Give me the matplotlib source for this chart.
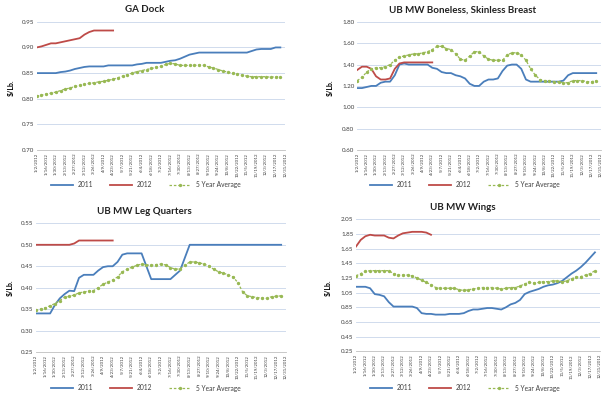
import numpy as np
import matplotlib
matplotlib.use("Agg")
import matplotlib.pyplot as plt

plt.rcParams["font.family"] = ["Lato", "DejaVu Sans"]

# week labels shown on the x axis (every second week)
date_labels = ["1/2/2012", "1/16/2012", "1/30/2012", "2/13/2012", "2/27/2012",
               "3/12/2012", "3/26/2012", "4/9/2012", "4/23/2012", "5/7/2012",
               "5/21/2012", "6/4/2012", "6/18/2012", "7/2/2012", "7/16/2012",
               "7/30/2012", "8/13/2012", "8/27/2012", "9/10/2012", "9/24/2012",
               "10/8/2012", "10/22/2012", "11/5/2012", "11/19/2012", "12/3/2012",
               "12/17/2012", "12/31/2012"]

# GA Dock
ga_2011 = [0.850, 0.850, 0.850, 0.850, 0.850, 0.852, 0.853, 0.855, 0.858, 0.860,
           0.862, 0.863, 0.863, 0.863, 0.863, 0.865, 0.865, 0.865, 0.865, 0.865,
           0.865, 0.867, 0.868, 0.870, 0.870, 0.870, 0.870, 0.872, 0.874, 0.875,
           0.878, 0.882, 0.886, 0.888, 0.890, 0.890, 0.890, 0.890, 0.890, 0.890,
           0.890, 0.890, 0.890, 0.890, 0.890, 0.893, 0.896, 0.897, 0.897, 0.897,
           0.900, 0.900]
ga_2012 = [0.900, 0.902, 0.905, 0.908, 0.908, 0.910, 0.912, 0.914, 0.916, 0.918,
           0.925, 0.930, 0.933, 0.933, 0.933, 0.933, 0.933]
ga_5yr = [0.805, 0.807, 0.809, 0.811, 0.813, 0.816, 0.819, 0.821, 0.824, 0.826,
          0.828, 0.830, 0.831, 0.833, 0.834, 0.836, 0.838, 0.841, 0.844, 0.847,
          0.850, 0.853, 0.855, 0.857, 0.859, 0.861, 0.863, 0.867, 0.869, 0.868,
          0.865, 0.865, 0.865, 0.865, 0.866, 0.865, 0.862, 0.860, 0.857, 0.854,
          0.852, 0.850, 0.848, 0.846, 0.844, 0.843, 0.843, 0.843, 0.843, 0.842,
          0.843, 0.843]

# UB MW Boneless, Skinless Breast
bsb_2011 = [1.18, 1.18, 1.19, 1.20, 1.20, 1.23, 1.24, 1.24, 1.30, 1.40,
            1.41, 1.40, 1.40, 1.40, 1.40, 1.40, 1.37, 1.36, 1.33, 1.32,
            1.32, 1.30, 1.29, 1.27, 1.22, 1.20, 1.20, 1.24, 1.26, 1.26,
            1.27, 1.34, 1.39, 1.40, 1.40, 1.36, 1.26, 1.24, 1.24, 1.24,
            1.24, 1.24, 1.24, 1.24, 1.25, 1.30, 1.32, 1.32, 1.32, 1.32,
            1.32, 1.32]
bsb_2012 = [1.35, 1.38, 1.38, 1.36, 1.29, 1.26, 1.26, 1.27, 1.36, 1.41,
            1.42, 1.42, 1.42, 1.42, 1.42, 1.42, 1.42]
bsb_5yr = [1.25, 1.28, 1.33, 1.36, 1.37, 1.37, 1.38, 1.40, 1.44, 1.47,
           1.48, 1.49, 1.50, 1.50, 1.51, 1.52, 1.54, 1.57, 1.57, 1.55,
           1.54, 1.50, 1.45, 1.44, 1.48, 1.52, 1.52, 1.48, 1.45, 1.44,
           1.44, 1.44, 1.49, 1.51, 1.51, 1.49, 1.44, 1.36, 1.30, 1.26,
           1.25, 1.25, 1.24, 1.24, 1.23, 1.23, 1.25, 1.25, 1.25, 1.24,
           1.24, 1.25]

# UB MW Leg Quarters
lq_2011 = [0.340, 0.340, 0.340, 0.340, 0.360, 0.375, 0.385, 0.393, 0.392, 0.423,
           0.430, 0.430, 0.430, 0.440, 0.448, 0.450, 0.450, 0.460, 0.477, 0.480,
           0.480, 0.480, 0.480, 0.450, 0.420, 0.420, 0.420, 0.420, 0.420, 0.430,
           0.440, 0.470, 0.500, 0.500, 0.500, 0.500, 0.500, 0.500, 0.500, 0.500,
           0.500, 0.500, 0.500, 0.500, 0.500, 0.500, 0.500, 0.500, 0.500, 0.500,
           0.500, 0.500]
lq_2012 = [0.500, 0.500, 0.500, 0.500, 0.500, 0.500, 0.500, 0.500, 0.503, 0.510,
           0.510, 0.510, 0.510, 0.510, 0.510, 0.510, 0.510]
lq_5yr = [0.347, 0.350, 0.353, 0.358, 0.363, 0.370, 0.378, 0.380, 0.383, 0.388,
          0.390, 0.392, 0.393, 0.400, 0.408, 0.413, 0.418, 0.425, 0.437, 0.443,
          0.448, 0.452, 0.455, 0.453, 0.452, 0.454, 0.455, 0.453, 0.447, 0.443,
          0.444, 0.452, 0.460, 0.460, 0.458, 0.455, 0.450, 0.443, 0.437, 0.434,
          0.430, 0.425, 0.412, 0.390, 0.381, 0.379, 0.377, 0.376, 0.375, 0.379,
          0.380, 0.381]

# UB MW Wings
w_2011 = [1.13, 1.13, 1.13, 1.11, 1.03, 1.02, 1.00, 0.92, 0.86, 0.86,
          0.86, 0.86, 0.86, 0.84, 0.77, 0.76, 0.76, 0.75, 0.75, 0.75,
          0.76, 0.76, 0.76, 0.77, 0.80, 0.82, 0.82, 0.83, 0.84, 0.84,
          0.83, 0.82, 0.85, 0.89, 0.91, 0.95, 1.03, 1.06, 1.08, 1.10,
          1.13, 1.15, 1.16, 1.18, 1.21, 1.26, 1.31, 1.35, 1.40, 1.46,
          1.53, 1.60]
w_2012 = [1.68, 1.77, 1.82, 1.84, 1.83, 1.83, 1.83, 1.80, 1.79, 1.83,
          1.86, 1.87, 1.88, 1.88, 1.88, 1.87, 1.84]
w_5yr = [1.28, 1.31, 1.34, 1.35, 1.35, 1.35, 1.35, 1.35, 1.31, 1.29,
         1.29, 1.29, 1.28, 1.25, 1.22, 1.19, 1.16, 1.12, 1.11, 1.11,
         1.11, 1.11, 1.09, 1.08, 1.09, 1.10, 1.11, 1.12, 1.12, 1.12,
         1.11, 1.10, 1.11, 1.12, 1.12, 1.14, 1.17, 1.19, 1.18, 1.19,
         1.20, 1.20, 1.21, 1.21, 1.20, 1.21, 1.24, 1.26, 1.27, 1.29,
         1.31, 1.35]

c2011 = "#4A7EBB"
c2012 = "#BE4B48"
c5yr = "#98B954"
grid_c = "#C9D6EA"

fig = plt.figure(figsize=(6.06, 3.96), dpi=100)

def panel(rect, title, title_xy, ylab_xy, leg_xy, s11, s12, s5, yticks, fmt):
    ax = fig.add_axes(rect)
    ax.plot(np.arange(len(s11)), s11, color=c2011, lw=1.3, label="2011")
    ax.plot(np.arange(len(s12)), s12, color=c2012, lw=1.3, label="2012")
    ax.plot(np.arange(len(s5)), s5, color=c5yr, lw=0.9, ls=(0, (2, 1.5)),
            marker="o", ms=1.4, mec=c5yr, label="5 Year Average")
    ax.set_xlim(0, 52)
    ax.set_ylim(yticks[0], yticks[-1])
    ax.set_yticks(yticks)
    ax.set_yticklabels([fmt % v for v in yticks], fontsize=4.5, color="#404040")
    ax.set_xticks(np.arange(0, 53, 2))
    ax.set_xticklabels(date_labels, rotation=90, fontsize=3.2, color="#404040")
    ax.tick_params(length=0, pad=2)
    ax.grid(axis="y", color=grid_c, lw=0.6)
    ax.set_axisbelow(True)
    for s in ["top", "right", "left"]:
        ax.spines[s].set_visible(False)
    ax.spines["bottom"].set_color("#BFBFBF")
    ax.spines["bottom"].set_linewidth(0.6)
    fig.text(title_xy[0] / 606, 1 - title_xy[1] / 396, title, ha="center",
             va="center", fontsize=7, fontweight="bold", color="#222222")
    fig.text(ylab_xy[0] / 606, 1 - ylab_xy[1] / 396, "$/Lb.", rotation=90,
             ha="center", va="center", fontsize=5, fontweight="bold")
    fig.legend(*ax.get_legend_handles_labels(), loc="center", ncol=3,
               bbox_to_anchor=(leg_xy[0] / 606, 1 - leg_xy[1] / 396),
               frameon=False, fontsize=4.8, handlelength=3.2, columnspacing=2.5,
               labelcolor="#404040")
    return ax

panel([0.0605, 0.621, 0.410, 0.324], "GA Dock", (145, 10), (11, 88), (146, 185),
      ga_2011, ga_2012, ga_5yr, [0.70, 0.75, 0.80, 0.85, 0.90, 0.95], "%.2f")
panel([0.5896, 0.621, 0.402, 0.324], "UB MW Boneless, Skinless Breast",
      (463, 10), (330, 88), (465, 185),
      bsb_2011, bsb_2012, bsb_5yr, [0.60, 0.80, 1.00, 1.20, 1.40, 1.60, 1.80], "%.2f")
panel([0.0589, 0.111, 0.413, 0.325], "UB MW Leg Quarters", (144, 211), (10, 288),
      (146, 388), lq_2011, lq_2012, lq_5yr,
      [0.25, 0.30, 0.35, 0.40, 0.45, 0.50, 0.55], "%.2f")
panel([0.5875, 0.113, 0.402, 0.333], "UB MW Wings", (463, 207), (328, 288),
      (465, 388), w_2011, w_2012, w_5yr,
      [0.25, 0.45, 0.65, 0.85, 1.05, 1.25, 1.45, 1.65, 1.85, 2.05], "%.2f")

fig.savefig("out.png", dpi=100)
